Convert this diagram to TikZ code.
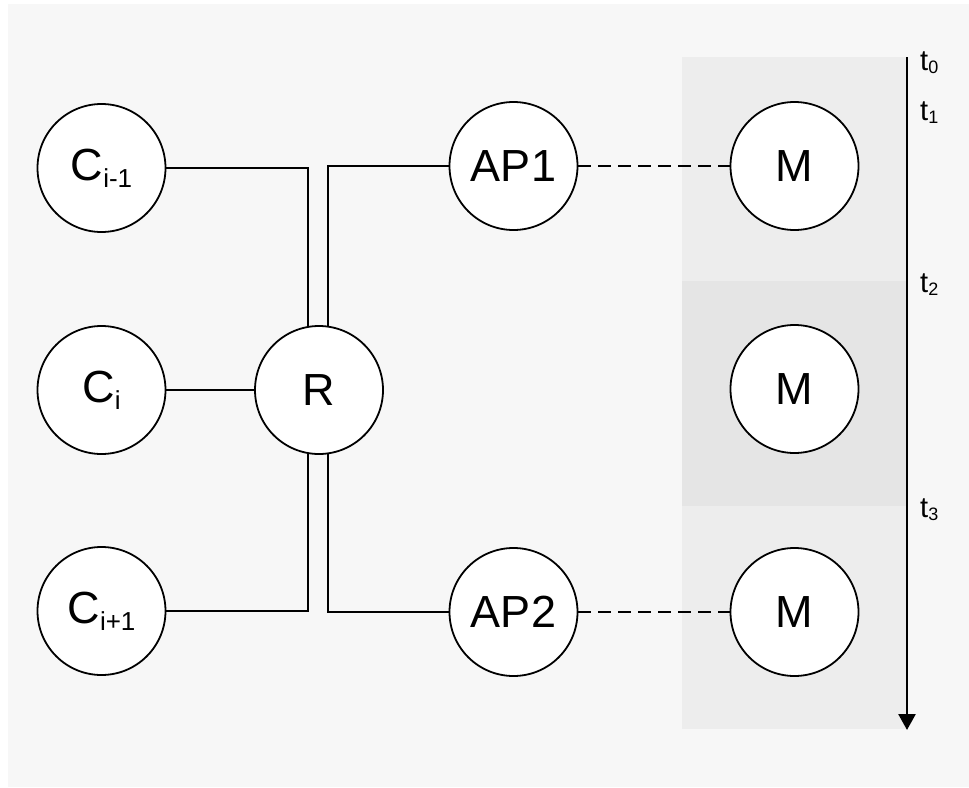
\documentclass[tikz,border=0pt]{standalone}
\usepackage{fontspec}
\setmainfont{Liberation Sans}
\usetikzlibrary{arrows.meta}
\definecolor{bgc}{HTML}{F7F7F7}
\definecolor{bandA}{HTML}{EDEDED}
\definecolor{bandB}{HTML}{E5E5E5}
\newcommand{\nsub}[1]{\raisebox{-7pt}{\fontsize{26}{26}\selectfont #1}}
\newcommand{\tsub}[1]{\raisebox{-3pt}{\fontsize{18}{18}\selectfont #1}}
\tikzset{
  ent/.style={circle, draw=black, line width=1.8pt, fill=white, minimum size=128pt, inner sep=0pt, font=\fontsize{45}{45}\selectfont},
  wire/.style={line width=1.8pt, draw=black},
  dwire/.style={line width=1.8pt, draw=black, dash pattern=on 13pt off 7pt},
  tlab/.style={anchor=base west, inner sep=0pt, font=\fontsize{29}{29}\selectfont}
}
\begin{document}
\begin{tikzpicture}[x=1pt,y=-1pt]
\useasboundingbox (0,0) rectangle (969,787);
\fill[bgc] (8,4) rectangle (969,787);
\fill[bandA] (682,57) rectangle (906,281);
\fill[bandB] (682,281) rectangle (906,506);
\fill[bandA] (682,506) rectangle (906,729);
\draw[line width=2.6pt, -{Triangle[length=16pt,width=17pt]}] (907,57) coordinate (ts) -- (907,730) coordinate (te);
\node (C1) [ent] at (101.5,168) {C\nsub{i-1}};
\node (C2) [ent] at (101.5,390) {C\nsub{i}};
\node (C3) [ent] at (101.5,611) {C\nsub{i+1}};
\node (R) [ent] at (319,390) {R};
\node (AP1) [ent] at (513.5,166) {AP1};
\node (AP2) [ent] at (513.5,612) {AP2};
\node (M1) [ent] at (794.5,166) {M};
\node (M2) [ent] at (794.5,389) {M};
\node (M3) [ent] at (794.5,612) {M};
\draw[wire] (C1.east) -| (R.100);
\draw[wire] (C2.east) -- (R.west);
\draw[wire] (C3.east) -| (R.-100);
\draw[wire] (R.82) |- (AP1.west);
\draw[wire] (R.-82) |- (AP2.west);
\draw[dwire] (AP1.east) -- (M1.west);
\draw[dwire] (AP2.east) -- (M3.west);
\node (t0) [tlab] at (920,70) {t\tsub{0}};
\node (t1) [tlab] at (920,120) {t\tsub{1}};
\node (t2) [tlab] at (920,292) {t\tsub{2}};
\node (t3) [tlab] at (920,517) {t\tsub{3}};
\end{tikzpicture}
\end{document}
